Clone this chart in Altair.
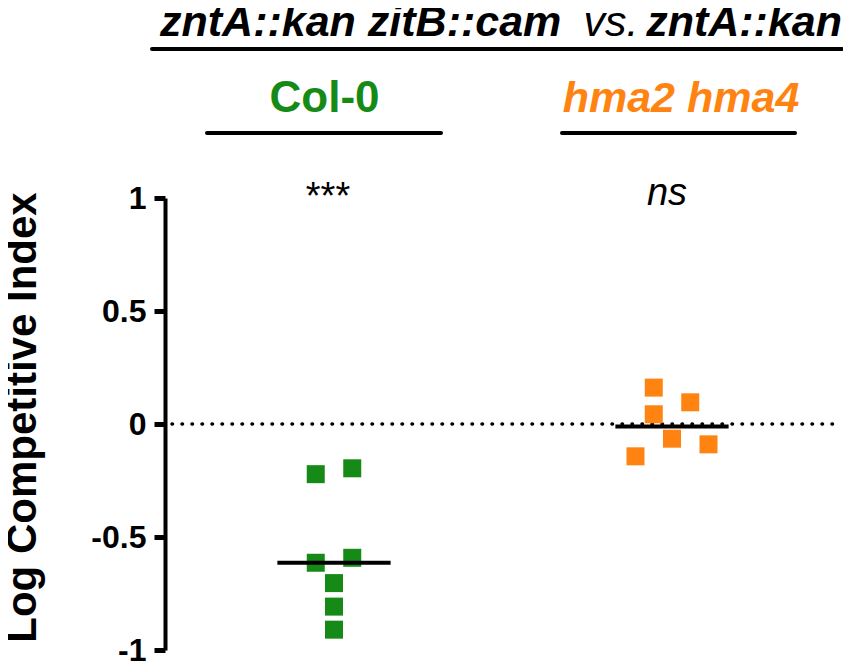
import altair as alt
import pandas as pd

# ---- data ----
groups = ["Col-0", "hma2 hma4"]
col0_values = [-0.222, -0.196, -0.614, -0.592, -0.704, -0.808, -0.910]
col0_slots = [-1, 1, -1, 1, 0, 0, 0]
hma_values = [0.161, 0.096, 0.043, -0.065, -0.090, -0.143]
hma_slots = [-1, 1, -1, 0, 2, -2]
y_ticks = [-1, -0.5, 0, 0.5, 1]
title_parts = ["zntA::kan zitB::cam", "vs.", "zntA::kan"]
significance = ["***", "ns"]
y_title = "Log Competitive Index"

GREEN = "#168A16"
ORANGE = "#FF8310"
FONT = "Liberation Sans"

rows = []
for gi, (vals, slots) in enumerate([(col0_values, col0_slots), (hma_values, hma_slots)]):
    for v, s in zip(vals, slots):
        rows.append({"group": groups[gi], "gidx": gi, "value": v, "slot": s})
df = pd.DataFrame(rows)

W, H = 676, 452
SLOT = 0.054
HALF = 0.1675

xscale = alt.Scale(domain=[-0.5, 1.5], nice=False, zero=False)
yscale = alt.Scale(domain=[-1, 1], nice=False, zero=False)
color = alt.Color("group:N", scale=alt.Scale(domain=groups, range=[GREEN, ORANGE]), legend=None)

yaxis = alt.Axis(
    values=y_ticks,
    labelExpr="toString(datum.value)",
    grid=False,
    domain=True, domainColor="black", domainWidth=4,
    ticks=True, tickColor="black", tickWidth=5, tickSize=11,
    labelFont=FONT, labelFontSize=32, labelFontWeight="bold", labelColor="black",
    labelPadding=8,
    title=y_title,
    titleFont=FONT, titleFontSize=42, titleFontWeight="bold", titleColor="black",
    titleAngle=270, titleAlign="center", titleBaseline="alphabetic",
    titleX=-130, titleY=219,
)

zero = alt.Chart(pd.DataFrame({"y": [0]})).mark_rule(
    color="black", strokeWidth=3.5, strokeDash=[0.5, 9.5], strokeCap="round"
).encode(
    y=alt.Y("y:Q", scale=yscale, axis=yaxis),
    x=alt.value(7), x2=alt.value(W),
)

points = alt.Chart(df).transform_calculate(
    xpos=f"datum.gidx + datum.slot * {SLOT}"
).mark_point(shape="square", filled=True, size=324, opacity=1, strokeWidth=0).encode(
    x=alt.X("xpos:Q", scale=xscale, axis=None),
    y=alt.Y("value:Q", scale=yscale),
    color=color,
)

medians = alt.Chart(df).transform_aggregate(
    med="median(value)", groupby=["group", "gidx"]
).transform_calculate(
    x1=f"datum.gidx - {HALF}", x2=f"datum.gidx + {HALF}"
).mark_rule(color="black", strokeWidth=4).encode(
    x=alt.X("x1:Q", scale=xscale, axis=None),
    x2="x2:Q",
    y=alt.Y("med:Q", scale=yscale),
)


def label(text, x, y, size, color="black", weight="normal", style="normal", align="center"):
    return alt.Chart(pd.DataFrame({"t": [text]})).mark_text(
        font=FONT, fontSize=size, fontWeight=weight, fontStyle=style,
        color=color, align=align, baseline="alphabetic",
    ).encode(text="t:N", x=alt.value(x), y=alt.value(y))


def hline(x1, x2, y):
    return alt.Chart(pd.DataFrame({"a": [0]})).mark_rule(
        color="black", strokeWidth=4, strokeCap="round"
    ).encode(x=alt.value(x1), x2=alt.value(x2), y=alt.value(y))


texts = [
    label(title_parts[0], -5, -162, 43, weight="bold", style="italic", align="left"),
    label(title_parts[1], 446, -162, 43, weight="normal", style="italic", align="center"),
    label(title_parts[2], 677, -162, 43, weight="bold", style="italic", align="right"),
    hline(-13, 677, -149),
    label(groups[0], 159.5, -86, 44, color=GREEN, weight="bold"),
    label(groups[1], 516, -86, 43, color=ORANGE, weight="bold", style="italic"),
    hline(42, 276, -65),
    hline(397, 630, -65),
    label(significance[0], 163, 11, 38),
    label(significance[1], 502, 7, 38, style="italic"),
]

chart = alt.layer(zero, points, medians, *texts).properties(
    width=W, height=H,
    autosize=alt.AutoSizeParams(type="none"),
    padding={"left": 157, "top": 190, "right": 2, "bottom": 16},
).configure(background="white").configure_view(strokeWidth=0, stroke="transparent")

chart.save("out.html", embed_options={"renderer": "svg", "actions": False})
